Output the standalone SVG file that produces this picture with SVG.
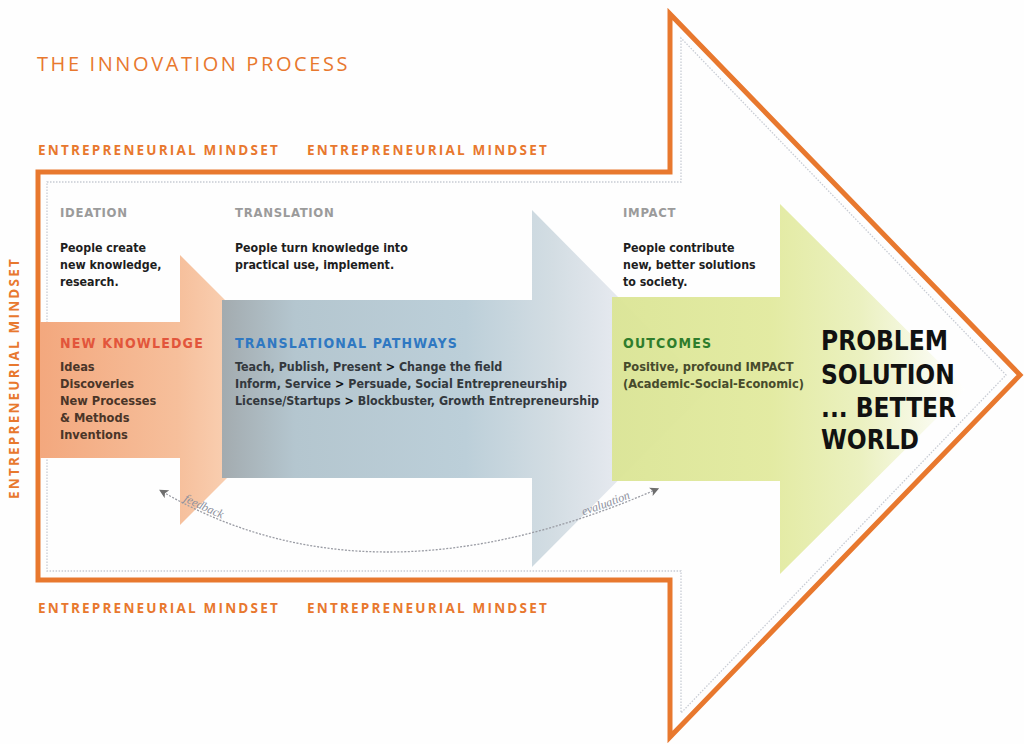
<svg xmlns="http://www.w3.org/2000/svg" width="1024" height="744" viewBox="0 0 1024 744">
<defs>
<style>
.em{font-family:"Open Sans","Liberation Sans",sans-serif;font-weight:700;font-size:13.5px;letter-spacing:2.2px;fill:#e8782e}
.title{font-family:"Open Sans","Liberation Sans",sans-serif;font-size:20px;letter-spacing:2.6px;fill:#e8782e}
.stage{font-family:"DejaVu Sans Condensed","DejaVu Sans",sans-serif;font-weight:700;font-size:13px;letter-spacing:0.7px;fill:#9b9b9b}
.desc{font-family:"DejaVu Sans Condensed","DejaVu Sans",sans-serif;font-weight:700;font-size:12.3px;fill:#1e1e1e}
.head{font-family:"DejaVu Sans Condensed","DejaVu Sans",sans-serif;font-weight:700;font-size:14px;letter-spacing:1.2px}
.item{font-family:"DejaVu Sans Condensed","DejaVu Sans",sans-serif;font-weight:700;font-size:12.7px}
.path{font-size:12.4px}
.big{font-family:"DejaVu Sans Condensed","DejaVu Sans",sans-serif;font-weight:700;font-size:26px;fill:#111}
.loop{font-family:"Liberation Serif",serif;font-style:italic;font-size:12px;fill:#8c8f9c}
</style>
<linearGradient id="gOr" x1="40" y1="0" x2="315" y2="0" gradientUnits="userSpaceOnUse">
<stop offset="0" stop-color="#f3a87e"/>
<stop offset="0.5" stop-color="#f6bf9b"/>
<stop offset="0.7" stop-color="#f9d0b3"/>
<stop offset="1" stop-color="#fbe0cc"/>
</linearGradient>
<linearGradient id="gBl" x1="222" y1="0" x2="709" y2="0" gradientUnits="userSpaceOnUse">
<stop offset="0" stop-color="#a3abaf"/>
<stop offset="0.15" stop-color="#b4c6cf"/>
<stop offset="0.5" stop-color="#bccfd9"/>
<stop offset="0.68" stop-color="#d3dde3"/>
<stop offset="0.8" stop-color="#e4e8ee"/>
<stop offset="1" stop-color="#eef0f4"/>
</linearGradient>
<linearGradient id="gGr" x1="612" y1="0" x2="966" y2="0" gradientUnits="userSpaceOnUse">
<stop offset="0" stop-color="#dbe596"/>
<stop offset="0.45" stop-color="#e2ea9f"/>
<stop offset="0.7" stop-color="#eaf0bd"/>
<stop offset="0.9" stop-color="#f8faeb"/>
<stop offset="1" stop-color="#ffffff"/>
</linearGradient>
<marker id="ah" viewBox="0 0 10 10" refX="5" refY="5" markerWidth="9" markerHeight="9" markerUnits="userSpaceOnUse" orient="auto-start-reverse">
<path d="M0,0 L10,5 L0,10 L2.5,5 Z" fill="#6e6e6e"/>
</marker>
<path id="loopPath" d="M163,492 Q371,613 655,490"/>
</defs>
<rect width="1024" height="744" fill="#fefefe"/>

<g id="title">
<text class="title" x="37" y="71">THE INNOVATION PROCESS</text>
</g>

<g id="frame">
<path d="M38,172 L670,172 L670,14 L1020,375 L670,737 L670,580 L38,580 Z" fill="none" stroke="#e8782e" stroke-width="5" stroke-linejoin="miter"/>
<path d="M47,182 L681,182 L681,38 L1006,375 L681,713 L681,571 L47,571 Z" fill="none" stroke="#c8ccd4" stroke-width="1.3" stroke-dasharray="1.5 1.5"/>
</g>

<g id="mindset-labels">
<text class="em" x="38" y="155">ENTREPRENEURIAL MINDSET</text>
<text class="em" x="307" y="155">ENTREPRENEURIAL MINDSET</text>
<text class="em" x="38" y="613">ENTREPRENEURIAL MINDSET</text>
<text class="em" x="307" y="613">ENTREPRENEURIAL MINDSET</text>
<text class="em" x="0" y="0" text-anchor="middle" transform="translate(19,378) rotate(-90)">ENTREPRENEURIAL MINDSET</text>
</g>

<g id="arrow-new-knowledge">
<polygon points="40,322 180,322 180,255 315,390 180,525 180,458 40,458" fill="url(#gOr)"/>
</g>

<g id="arrow-translational">
<polygon points="222,300 532,300 532,210 709,389 532,567 532,478 222,478" fill="url(#gBl)"/>
</g>

<g id="arrow-outcomes">
<polygon points="612,297 780,297 780,204 966,389 780,574 780,481 612,481" fill="url(#gGr)" fill-opacity="0.96"/>
</g>

<g id="connectors">
<path d="M163,492 Q371,613 655,490" fill="none" stroke="#9a9ca4" stroke-width="1.3" stroke-dasharray="2 1.5" marker-start="url(#ah)" marker-end="url(#ah)"/>
</g>

<g id="loop-labels">
<text class="loop" dy="-2"><textPath href="#loopPath" startOffset="22">feedback</textPath></text>
<text class="loop" dy="-2" text-anchor="end"><textPath href="#loopPath" startOffset="95%">evaluation</textPath></text>
</g>

<g id="ideation">
<text class="stage" x="60" y="217">IDEATION</text>
<text class="desc" x="60" y="252">People create</text>
<text class="desc" x="60" y="269">new knowledge,</text>
<text class="desc" x="60" y="286">research.</text>
<text class="head" x="60" y="348" fill="#e2553b">NEW KNOWLEDGE</text>
<text class="item" x="60" y="371" fill="#4a3528">Ideas</text>
<text class="item" x="60" y="388" fill="#4a3528">Discoveries</text>
<text class="item" x="60" y="405" fill="#4a3528">New Processes</text>
<text class="item" x="60" y="422" fill="#4a3528">&amp; Methods</text>
<text class="item" x="60" y="439" fill="#4a3528">Inventions</text>
</g>

<g id="translation">
<text class="stage" x="235" y="217">TRANSLATION</text>
<text class="desc" x="235" y="252">People turn knowledge into</text>
<text class="desc" x="235" y="269">practical use, implement.</text>
<text class="head" x="235" y="348" fill="#2f78c2">TRANSLATIONAL PATHWAYS</text>
<text class="item path" x="235" y="371" fill="#33383d">Teach, Publish, Present <tspan fill="#111">&gt;</tspan> Change the field</text>
<text class="item path" x="235" y="388" fill="#33383d">Inform, Service <tspan fill="#111">&gt;</tspan> Persuade, Social Entrepreneurship</text>
<text class="item path" x="235" y="405" fill="#33383d">License/Startups <tspan fill="#111">&gt;</tspan> Blockbuster, Growth Entrepreneurship</text>
</g>

<g id="impact">
<text class="stage" x="623" y="217">IMPACT</text>
<text class="desc" x="623" y="252">People contribute</text>
<text class="desc" x="623" y="269">new, better solutions</text>
<text class="desc" x="623" y="286">to society.</text>
<text class="head" x="623" y="348" fill="#2f7d2c">OUTCOMES</text>
<text class="item" x="623" y="371" fill="#474b2c">Positive, profound IMPACT</text>
<text class="item" x="623" y="388" fill="#474b2c">(Academic-Social-Economic)</text>
</g>

<g id="result">
<text class="big" x="821" y="350">PROBLEM</text>
<text class="big" x="821" y="384">SOLUTION</text>
<text class="big" x="821" y="417">... BETTER</text>
<text class="big" x="821" y="449">WORLD</text>
</g>
</svg>
